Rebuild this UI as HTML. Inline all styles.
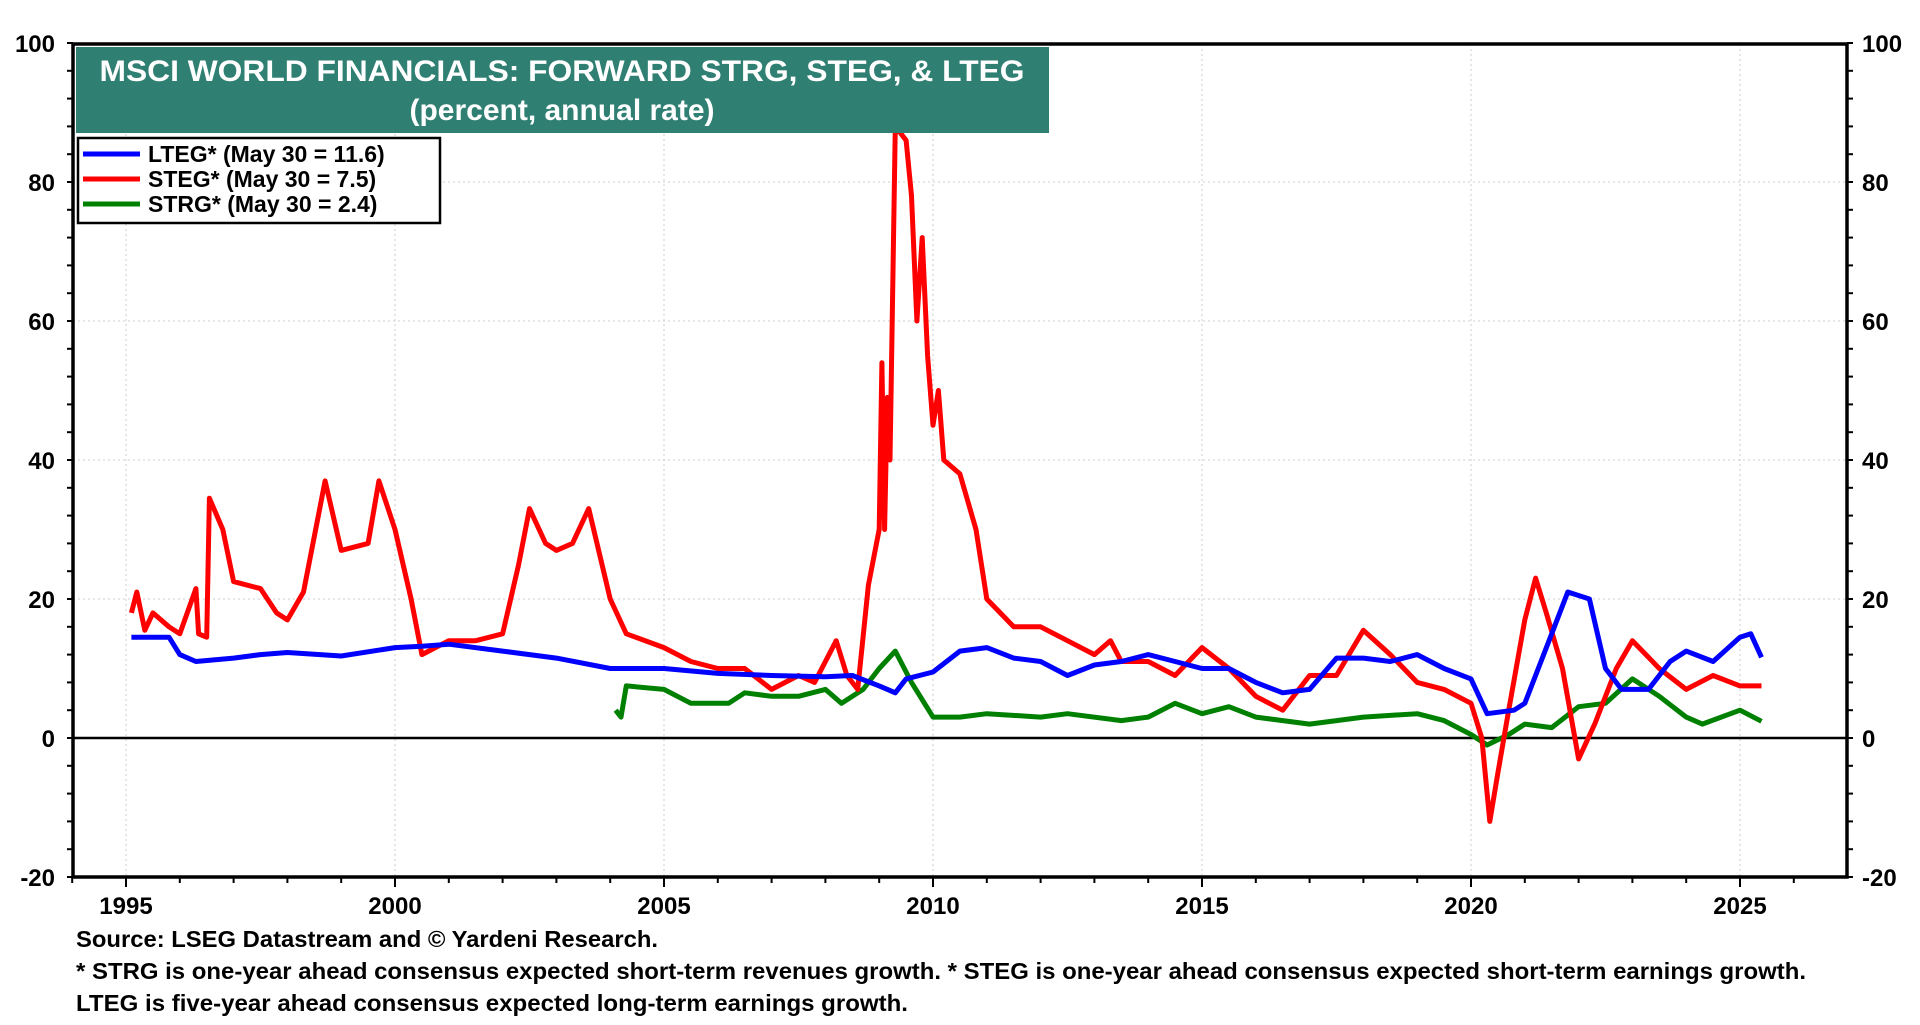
<!DOCTYPE html>
<html><head><meta charset="utf-8"><style>
body{margin:0;background:#fff;width:1920px;height:1020px;overflow:hidden;font-family:"Liberation Sans",Arial,sans-serif}
svg text{font-family:"Liberation Sans",Arial,sans-serif;font-weight:bold}
</style></head><body>
<svg id="chart" width="1920" height="1020" xmlns="http://www.w3.org/2000/svg"></svg>
<script>
const lteg_x=[1995.1,1995.8,1996,1996.3,1997,1997.5,1998,1999,2000,2000.5,2001,2002,2003,2004,2005,2006,2007,2008,2008.5,2009,2009.3,2009.5,2010,2010.5,2011,2011.5,2012,2012.5,2013,2013.5,2014,2014.5,2015,2015.5,2016,2016.5,2017,2017.5,2018,2018.5,2019,2019.5,2020,2020.3,2020.8,2021,2021.5,2021.8,2022.2,2022.5,2022.8,2023.3,2023.7,2024,2024.5,2025,2025.2,2025.4];
const lteg_v=[14.5,14.5,12,11,11.5,12,12.3,11.8,13,13.2,13.5,12.5,11.5,10,10,9.3,9,8.8,9,7.5,6.5,8.5,9.5,12.5,13,11.5,11,9,10.5,11,12,11,10,10,8,6.5,7,11.5,11.5,11,12,10,8.5,3.5,4,5,15,21,20,10,7,7,11,12.5,11,14.5,15,11.6];
const steg_x=[1995.1,1995.2,1995.35,1995.5,1995.8,1996,1996.3,1996.35,1996.5,1996.55,1996.8,1997,1997.5,1997.8,1998,1998.3,1998.5,1998.7,1999,1999.5,1999.7,2000,2000.3,2000.5,2001,2001.5,2002,2002.3,2002.5,2002.8,2003,2003.3,2003.6,2004,2004.3,2005,2005.5,2006,2006.5,2007,2007.5,2007.8,2008.2,2008.4,2008.6,2008.8,2009,2009.05,2009.1,2009.15,2009.2,2009.3,2009.5,2009.6,2009.7,2009.8,2009.9,2010,2010.1,2010.2,2010.5,2010.8,2011,2011.5,2012,2012.5,2013,2013.3,2013.5,2014,2014.5,2015,2015.5,2016,2016.5,2017,2017.5,2018,2018.5,2019,2019.5,2020,2020.2,2020.35,2020.5,2020.7,2021,2021.2,2021.4,2021.7,2022,2022.3,2022.7,2023,2023.5,2024,2024.5,2025,2025.4];
const steg_v=[18,21,15.5,18,16,15,21.5,15,14.5,34.5,30,22.5,21.5,18,17,21,29,37,27,28,37,30,20,12,14,14,15,25,33,28,27,28,33,20,15,13,11,10,10,7,9,8,14,9,7,22,30,54,30,49,40,88,86,78,60,72,55,45,50,40,38,30,20,16,16,14,12,14,11,11,9,13,10,6,4,9,9,15.5,12,8,7,5,0,-12,-5,4,17,23,18,10,-3,2,10,14,10,7,9,7.5,7.5];
const strg_x=[2004.1,2004.2,2004.3,2005,2005.5,2006.2,2006.5,2007,2007.5,2008,2008.3,2008.7,2009,2009.3,2009.6,2010,2010.5,2011,2012,2012.5,2013.5,2014,2014.5,2015,2015.5,2016,2017,2018,2019,2019.5,2020,2020.3,2020.7,2021,2021.5,2022,2022.5,2023,2023.5,2024,2024.3,2025,2025.4];
const strg_v=[4,3,7.5,7,5,5,6.5,6,6,7,5,7,10,12.5,8,3,3,3.5,3,3.5,2.5,3,5,3.5,4.5,3,2,3,3.5,2.5,0.5,-1,0.5,2,1.5,4.5,5,8.5,6,3,2,4,2.4];
const yTicks=[100,80,60,40,20,0,-20];
const xTicks=[1995,2000,2005,2010,2015,2020,2025];

const L=73,R=1847,T=44,B=877;
const X=y=>126+(y-1995)*(1740-126)/30;
const Y=v=>738-v*139/20;
const svg=document.getElementById('chart');
const NS='http://www.w3.org/2000/svg';
function mk(tag,attrs,parent){const e=document.createElementNS(NS,tag);for(const k in attrs)e.setAttribute(k,attrs[k]);(parent||svg).appendChild(e);return e;}

for(const v of yTicks){ if(v===100||v===-20||v===0)continue;
  const g=mk('line',{x1:L,x2:R,y1:Y(v),y2:Y(v),stroke:'#ccc','stroke-dasharray':'2,3','stroke-width':1});
  
  }
for(const t of xTicks){
  const g=mk('line',{x1:X(t),x2:X(t),y1:T,y2:B,stroke:'#ccc','stroke-dasharray':'2,3','stroke-width':1});
  
  }
for(let v=-20;v<=100;v+=4){
  const a=mk('line',{x1:L-6,x2:L,y1:Y(v),y2:Y(v),stroke:'#000','stroke-width':2});
  
  
  const b=mk('line',{x1:R,x2:R+6,y1:Y(v),y2:Y(v),stroke:'#000','stroke-width':2});
  
  }
for(let y=1994;y<=2026;y++){
  const t=mk('line',{x1:X(y),x2:X(y),y1:B,y2:B+(y%5===0?10:6),stroke:'#000','stroke-width':2});
  
  }
const z=mk('line',{x1:L,x2:R,y1:Y(0),y2:Y(0),stroke:'#000','stroke-width':2.5});


for(const v of yTicks){
  const a=mk('text',{x:55,y:Y(v)+9,'text-anchor':'end','font-size':24});a.textContent=v;
  
  
  const b=mk('text',{x:1862,y:Y(v)+9,'font-size':24});b.textContent=v;
  
  }
for(const t of xTicks){
  const a=mk('text',{x:X(t),y:914,'text-anchor':'middle','font-size':24});a.textContent=t;
  
  }
function series(xs,vs,color,name){
  const d=xs.map((x,i)=>(i?'L':'M')+X(x).toFixed(1)+','+Y(vs[i]).toFixed(1)).join('');
  const p=mk('path',{d:d,fill:'none',stroke:color,'stroke-width':5,'stroke-linejoin':'round'});
  
  }
series(strg_x,strg_v,'#008000','strg-line');
series(steg_x,steg_v,'#ff0000','steg-line');
series(lteg_x,lteg_v,'#0000ff','lteg-line');
const f=mk('rect',{x:L,y:T,width:R-L,height:B-T,fill:'none',stroke:'#000','stroke-width':3.5});


const tb=mk('rect',{x:76,y:47,width:973,height:86,fill:'#2f7f72'});


const t1=mk('text',{x:562,y:81,'text-anchor':'middle','font-size':30,fill:'#fff',textLength:925,lengthAdjust:'spacingAndGlyphs'});t1.textContent='MSCI WORLD FINANCIALS: FORWARD STRG, STEG, & LTEG';


const t2=mk('text',{x:562,y:120,'text-anchor':'middle','font-size':30,fill:'#fff'});t2.textContent='(percent, annual rate)';


const lb=mk('rect',{x:78,y:138,width:362,height:85,fill:'#fff',stroke:'#000','stroke-width':2.5});


const leg=[['#0000ff','LTEG* (May 30 = 11.6)','legend-entry-lteg'],['#ff0000','STEG* (May 30 = 7.5)','legend-entry-steg'],['#008000','STRG* (May 30 = 2.4)','legend-entry-strg']];
leg.forEach((e,i)=>{
  const y=154+i*25;
  const s=mk('line',{x1:83,x2:140,y1:y,y2:y,stroke:e[0],'stroke-width':5});
  
  
  const t=mk('text',{x:148,y:y+8,'font-size':23});t.textContent=e[1];
  
  });
const foot=['Source: LSEG Datastream and © Yardeni Research.','* STRG is one-year ahead consensus expected short-term revenues growth. * STEG is one-year ahead consensus expected short-term earnings growth.','LTEG is five-year ahead consensus expected long-term earnings growth.'];
const footLen=[582,1730,832];
foot.forEach((s,i)=>{
  const t=mk('text',{x:76,y:947+i*32,'font-size':23,textLength:footLen[i],lengthAdjust:'spacingAndGlyphs'});t.textContent=s;
  
  });
</script>
</body></html>
